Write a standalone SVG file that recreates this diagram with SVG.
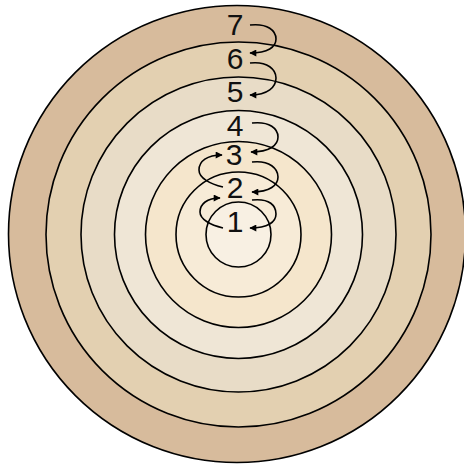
<svg xmlns="http://www.w3.org/2000/svg" width="464" height="465" viewBox="0 0 464 465">
<defs>
<style>
.ring{stroke:#000;stroke-width:1.6}
.lbl{font-family:"Liberation Sans",Arial,sans-serif;font-size:30px;fill:#111;text-anchor:middle}
.arr{fill:none;stroke:#000;stroke-width:1.6;marker-end:url(#ah)}
</style>
<marker id="ah" viewBox="0 0 10 10" refX="9" refY="5" markerWidth="8" markerHeight="7" markerUnits="userSpaceOnUse" orient="auto">
<path d="M0,0 L10,5 L0,10 z" fill="#000"/>
</marker>
</defs>
<rect width="464" height="465" fill="#fff"/>
<g id="node7"><circle class="ring" cx="237" cy="234" r="228.5" fill="#D7BB9C"/></g>
<g id="node6"><circle class="ring" cx="238.5" cy="234.5" r="192.5" fill="#E3D0B1"/></g>
<g id="node5"><circle class="ring" cx="238.5" cy="234.5" r="157.5" fill="#E8DCC7"/></g>
<g id="node4"><circle class="ring" cx="238.5" cy="234.5" r="124" fill="#EFE6D6"/></g>
<g id="node3"><circle class="ring" cx="238.5" cy="234.5" r="93" fill="#F5E6CC"/></g>
<g id="node2"><circle class="ring" cx="238.5" cy="234.5" r="62.5" fill="#F7EBD7"/></g>
<g id="node1"><circle class="ring" cx="238.5" cy="234.5" r="32.5" fill="#F8F0E3"/></g>
<g id="labels">
<text class="lbl" x="235" y="35">7</text>
<text class="lbl" x="235" y="69">6</text>
<text class="lbl" x="235" y="102">5</text>
<text class="lbl" x="235" y="136">4</text>
<text class="lbl" x="234" y="165">3</text>
<text class="lbl" x="235" y="198">2</text>
<text class="lbl" x="235" y="232">1</text>
</g>
<g id="connectors">
<path class="arr" d="M250,25 C268,23 276,31 276,39 C276,47 268,53 250,53"/>
<path class="arr" d="M250,63 C268,61 276,70 276,78 C276,87 268,95 250,95"/>
<path class="arr" d="M252,123 C270,121 278,129 278,137 C278,145 270,152 251,152"/>
<path class="arr" d="M252,162 C270,160 278,169 278,177 C278,185 270,192 252,192"/>
<path class="arr" d="M252,200 C270,198 276,206 276,214 C276,222 268,228 250,228"/>
<path class="arr" d="M223,187 C210,184 199,178 199,170 C199,161 207,155 222,155"/>
<path class="arr" d="M223,228 C210,225 200,219 200,212 C200,204 207,198 220,198"/>
</g>
</svg>
